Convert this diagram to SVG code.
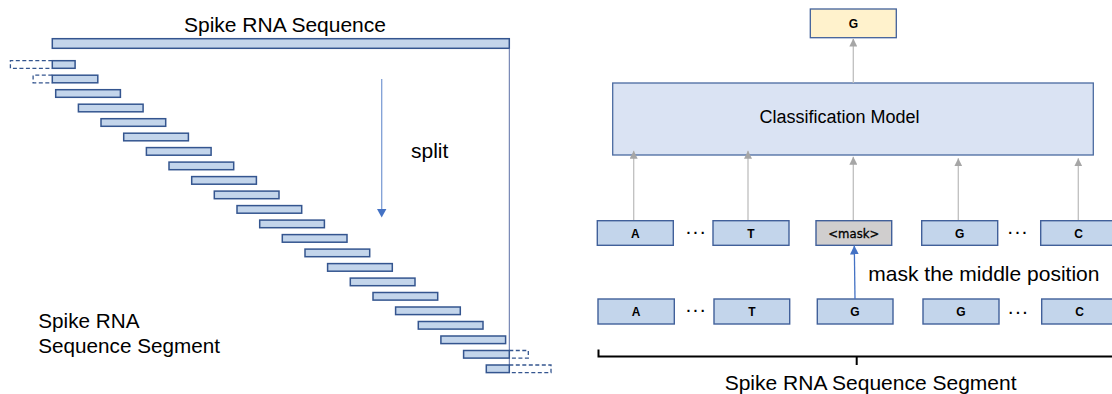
<svg xmlns="http://www.w3.org/2000/svg" width="1112" height="394" viewBox="0 0 1112 394">
<style>
.lbl{font-family:"Liberation Sans",Arial,sans-serif;font-size:21px;fill:#000}
.tok{font-family:"Liberation Sans",Arial,sans-serif;font-size:12px;font-weight:bold;fill:#000;text-anchor:middle}
.seg{fill:#c3d5eb;stroke:#34558f;stroke-width:1.5}
.dash{fill:none;stroke:#34558f;stroke-width:1.3;stroke-dasharray:4 2.5}
.box{fill:#c3d5eb;stroke:#41609a;stroke-width:1.4}
.gray{stroke:#bfbfbf;stroke-width:1.3;fill:none}
.dots{font-family:"Liberation Sans",Arial,sans-serif;font-size:14px;font-weight:bold;letter-spacing:3.2px;fill:#000}
</style>
<defs>
<marker id="ag" viewBox="0 0 10 10" refX="10" refY="5" markerWidth="8" markerHeight="8" markerUnits="userSpaceOnUse" orient="auto">
<path d="M0,0 L10,5 L0,10 Z" fill="#a6a6a6"/>
</marker>
<marker id="ab" viewBox="0 0 10 10" refX="10" refY="5" markerWidth="9" markerHeight="9" markerUnits="userSpaceOnUse" orient="auto">
<path d="M0,0 L10,5 L0,10 Z" fill="#4472c4"/>
</marker>
</defs>

<g id="left-sequence">
<text class="lbl" x="184" y="31.7">Spike RNA Sequence</text>
<rect class="seg" x="52.3" y="38.7" width="457" height="9.6"/>
<line x1="509.3" y1="48.3" x2="509.3" y2="373" stroke="#5a6fa6" stroke-width="1"/>
</g>

<g id="segments">
<path class="dash" d="M52.3,60.7 H10.4 V68.3 H52.3"/>
<rect class="seg" x="52.3" y="60.7" width="22.8" height="7.6"/>
<path class="dash" d="M52.3,75.2 H33.1 V82.8 H52.3"/>
<rect class="seg" x="52.3" y="75.2" width="45.5" height="7.6"/>
<rect class="seg" x="55.7" y="89.7" width="64.7" height="7.6"/>
<rect class="seg" x="78.4" y="104.2" width="64.7" height="7.6"/>
<rect class="seg" x="101.0" y="118.7" width="64.7" height="7.6"/>
<rect class="seg" x="123.7" y="133.2" width="64.7" height="7.6"/>
<rect class="seg" x="146.4" y="147.6" width="64.7" height="7.6"/>
<rect class="seg" x="169.0" y="162.1" width="64.7" height="7.6"/>
<rect class="seg" x="191.7" y="176.6" width="64.7" height="7.6"/>
<rect class="seg" x="214.3" y="191.1" width="64.7" height="7.6"/>
<rect class="seg" x="237.0" y="205.6" width="64.7" height="7.6"/>
<rect class="seg" x="259.7" y="220.1" width="64.7" height="7.6"/>
<rect class="seg" x="282.3" y="234.6" width="64.7" height="7.6"/>
<rect class="seg" x="305.0" y="249.1" width="64.7" height="7.6"/>
<rect class="seg" x="327.6" y="263.6" width="64.7" height="7.6"/>
<rect class="seg" x="350.3" y="278.1" width="64.7" height="7.6"/>
<rect class="seg" x="373.0" y="292.5" width="64.7" height="7.6"/>
<rect class="seg" x="395.6" y="307.0" width="64.7" height="7.6"/>
<rect class="seg" x="418.3" y="321.5" width="64.7" height="7.6"/>
<rect class="seg" x="440.9" y="336.0" width="64.7" height="7.6"/>
<rect class="seg" x="463.6" y="350.5" width="45.7" height="7.6"/>
<path class="dash" d="M509.3,350.5 H528.3 V358.1 H509.3"/>
<rect class="seg" x="486.3" y="365.0" width="23" height="7.6"/>
<path class="dash" d="M509.3,365.0 H551 V372.6 H509.3"/>
<text class="lbl" x="38.3" y="328.3" style="font-size:20.7px">Spike RNA</text>
<text class="lbl" x="38.3" y="353.3" style="font-size:20.7px">Sequence Segment</text>
</g>

<g id="split">
<line x1="381.7" y1="79" x2="381.7" y2="210" stroke="#7f9fd6" stroke-width="1.3"/>
<path d="M377,209 L386.4,209 L381.7,217.5 Z" fill="#4472c4"/>
<text class="lbl" x="411" y="158.3">split</text>
</g>

<g id="output-G">
<rect x="810.3" y="9" width="86" height="28.7" fill="#fff2cc" stroke="#41609a" stroke-width="1.3"/>
<text class="tok" x="853.3" y="28.3">G</text>
</g>

<g id="classification-model">
<rect x="612.7" y="83" width="480.6" height="72" fill="#dae3f3" stroke="#4a6aa0" stroke-width="1.3"/>
<text x="839.5" y="123" font-family="Liberation Sans, Arial, sans-serif" font-size="18" text-anchor="middle" fill="#000">Classification Model</text>
</g>

<g id="masked-row">
<rect class="box" x="597.3" y="220.7" width="76" height="24.6"/>
<text class="tok" x="635.3" y="237.5">A</text>
<text class="dots" x="686.5" y="234">...</text>
<rect class="box" x="713" y="220.7" width="76" height="24.6"/>
<text class="tok" x="751" y="237.5">T</text>
<rect x="816" y="220.7" width="75.7" height="24.6" fill="#d0cece" stroke="#41609a" stroke-width="1.4"/>
<text x="853.8" y="237.5" font-family="DejaVu Sans, Verdana, sans-serif" font-size="11.7" font-weight="500" text-anchor="middle" fill="#000" stroke="#000" stroke-width="0.3">&lt;mask&gt;</text>
<rect class="box" x="921.7" y="220.7" width="76" height="24.6"/>
<text class="tok" x="959.7" y="237.5">G</text>
<text class="dots" x="1008.3" y="234">...</text>
<rect class="box" x="1040.7" y="220.7" width="76" height="24.6"/>
<text class="tok" x="1078.7" y="237.5">C</text>
</g>

<g id="input-row">
<rect class="box" x="598" y="299" width="76.3" height="25"/>
<text class="tok" x="636" y="316">A</text>
<text class="dots" x="686.5" y="312">...</text>
<rect class="box" x="714" y="299" width="75.7" height="25"/>
<text class="tok" x="752" y="316">T</text>
<rect class="box" x="817.3" y="299" width="75.7" height="25"/>
<text class="tok" x="855" y="316">G</text>
<rect class="box" x="923" y="299" width="76" height="25"/>
<text class="tok" x="961" y="316">G</text>
<text class="dots" x="1008.8" y="313.5">...</text>
<rect class="box" x="1041.7" y="299" width="76" height="25"/>
<text class="tok" x="1079.7" y="316">C</text>
</g>

<g id="connectors">
<line class="gray" x1="853.3" y1="83" x2="853.3" y2="38.5" marker-end="url(#ag)"/>
<line class="gray" x1="633.7" y1="220" x2="633.7" y2="150.7" marker-end="url(#ag)"/>
<line class="gray" x1="748" y1="220" x2="748" y2="150.7" marker-end="url(#ag)"/>
<line class="gray" x1="853.3" y1="220" x2="853.3" y2="156.7" marker-end="url(#ag)"/>
<line class="gray" x1="958.3" y1="220" x2="958.3" y2="158.3" marker-end="url(#ag)"/>
<line class="gray" x1="1078.3" y1="220" x2="1078.3" y2="158.3" marker-end="url(#ag)"/>
<line x1="855" y1="299" x2="854.3" y2="245.5" stroke="#4472c4" stroke-width="1.3" marker-end="url(#ab)"/>
</g>

<g id="mask-label">
<text class="lbl" x="868.3" y="280.5">mask the middle position</text>
</g>

<g id="bracket">
<path d="M598.5,349.5 V356.5 H1112" fill="none" stroke="#000" stroke-width="2"/>
<line x1="856.7" y1="356.5" x2="856.7" y2="365" stroke="#000" stroke-width="2"/>
<text class="lbl" x="724.7" y="390">Spike RNA Sequence Segment</text>
</g>
</svg>
